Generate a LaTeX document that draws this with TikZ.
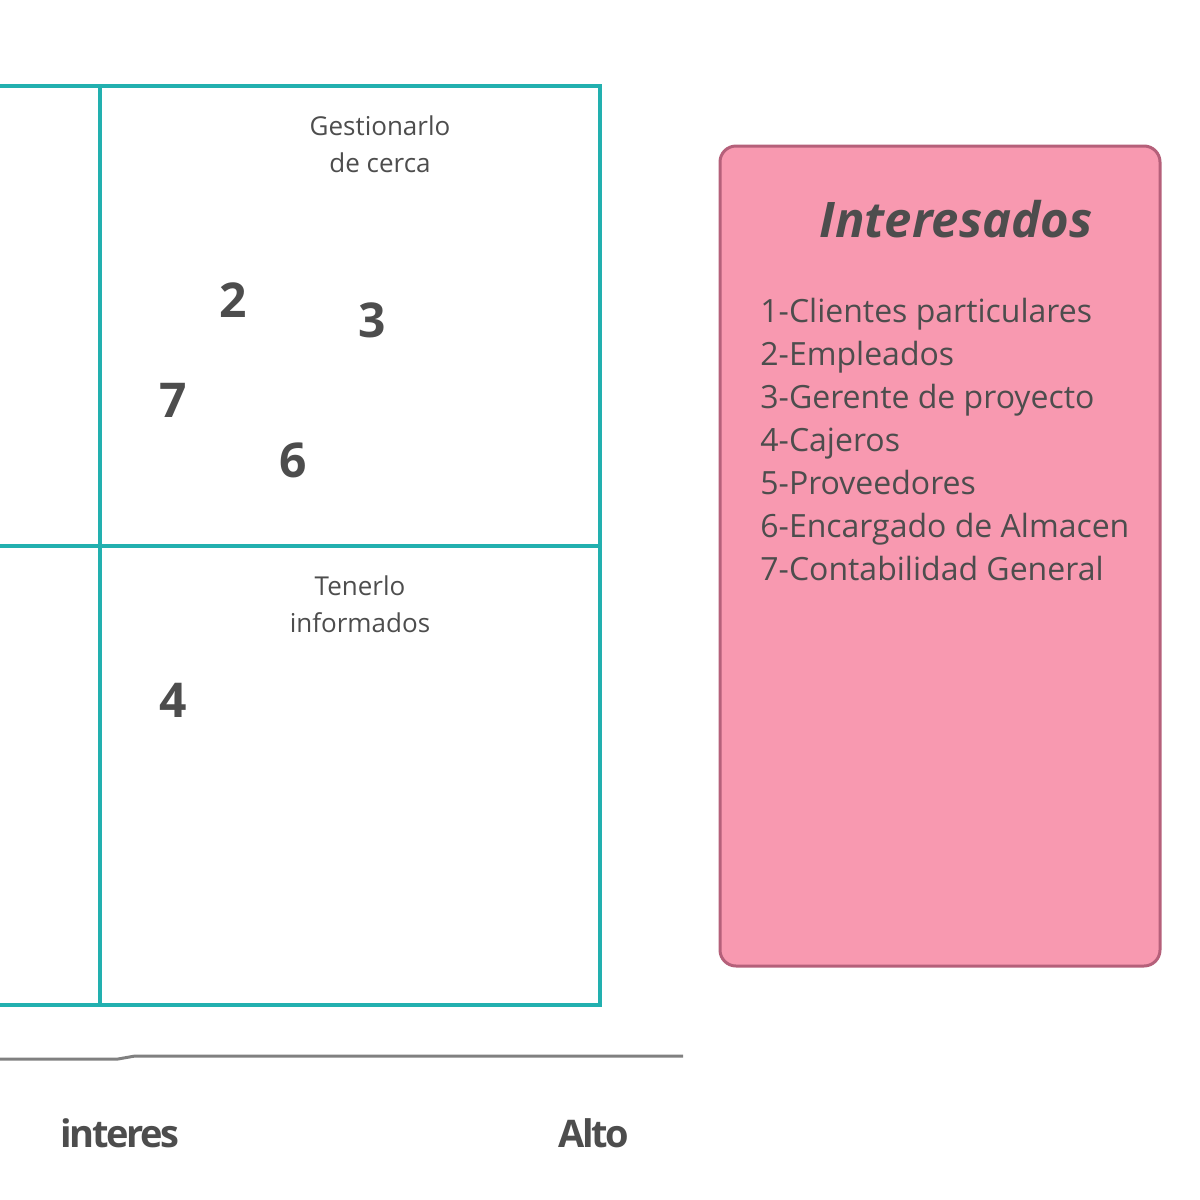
\documentclass[tikz,border=0pt]{standalone}
\usepackage{fontspec}
\setmainfont{Open Sans}
\newfontfamily\tightsans{Open Sans}[LetterSpace=-6]
\usetikzlibrary{positioning}
\definecolor{gridteal}{HTML}{22B0AF}
\definecolor{axisgray}{HTML}{808080}
\definecolor{inkgray}{HTML}{4D4D4D}
\definecolor{boxpink}{HTML}{F899B0}
\definecolor{boxrim}{HTML}{B5607A}
\begin{document}
\begin{tikzpicture}[x=0.5pt,y=-0.5pt,
    grid/.style={draw=gridteal, line width=2pt},
    cellnote/.style={text=inkgray, font=\fontsize{13}{18.5}\selectfont, align=center},
    stakeholder/.style={text=inkgray, font=\fontsize{24}{28}\selectfont\bfseries},
    axislabel/.style={text=inkgray, font=\tightsans\fontsize{19}{24}\selectfont\bfseries},
    legendbox/.style={draw=boxrim, fill=boxpink, line width=1.5pt, rounded corners=8pt,
        minimum width=220pt, minimum height=410pt}]
            \useasboundingbox (0,0) rectangle (1200,1200);
            \clip (0,0) rectangle (1200,1200);

            % Grid
            \draw[grid] (-100,86) rectangle (600,1005);
            \draw[grid] (100,86) -- (100,1005);
            \draw[grid] (-100,546) -- (600,546);

            % Notes in the cells
            \node[cellnote] (closenote) at (380,144) {Gestionarlo\\de cerca};
            \node[cellnote] (infonote) at (360,604) {Tenerlo\\informados};

            % Stakeholders in the grid
            \node[stakeholder] (s2) at (233,300) {2};
            \node[stakeholder] (s3) at (372,320) {3};
            \node[stakeholder] (s7) at (173,400) {7};
            \node[stakeholder] (s6) at (293,460) {6};
            \node[stakeholder] (s4) at (173,700) {4};

            % Interest axis
            \draw[axisgray, line width=1.5pt] (0,1059) -- (118,1059) -- (135,1056) -- (683,1056);
            \node[axislabel] (interes) at (120,1133) {interes};
            \node[axislabel] (alto) at (594,1133) {Alto};

            % Legend
            \node[legendbox] (legend) at (940,556) {};
            \node[text=inkgray, font=\fontsize{24.5}{30}\selectfont\bfseries\itshape] (title) at (956,219) {Interesados};
            \node[text=inkgray, font=\fontsize{16}{21.5}\selectfont, align=left, anchor=base west, inner sep=0pt] (list) at (760,580)
                {1-Clientes particulares\\2-Empleados\\3-Gerente de proyecto\\4-Cajeros\\5-Proveedores\\6-Encargado de Almacen\\7-Contabilidad General};

        \end{tikzpicture}
\end{document}
